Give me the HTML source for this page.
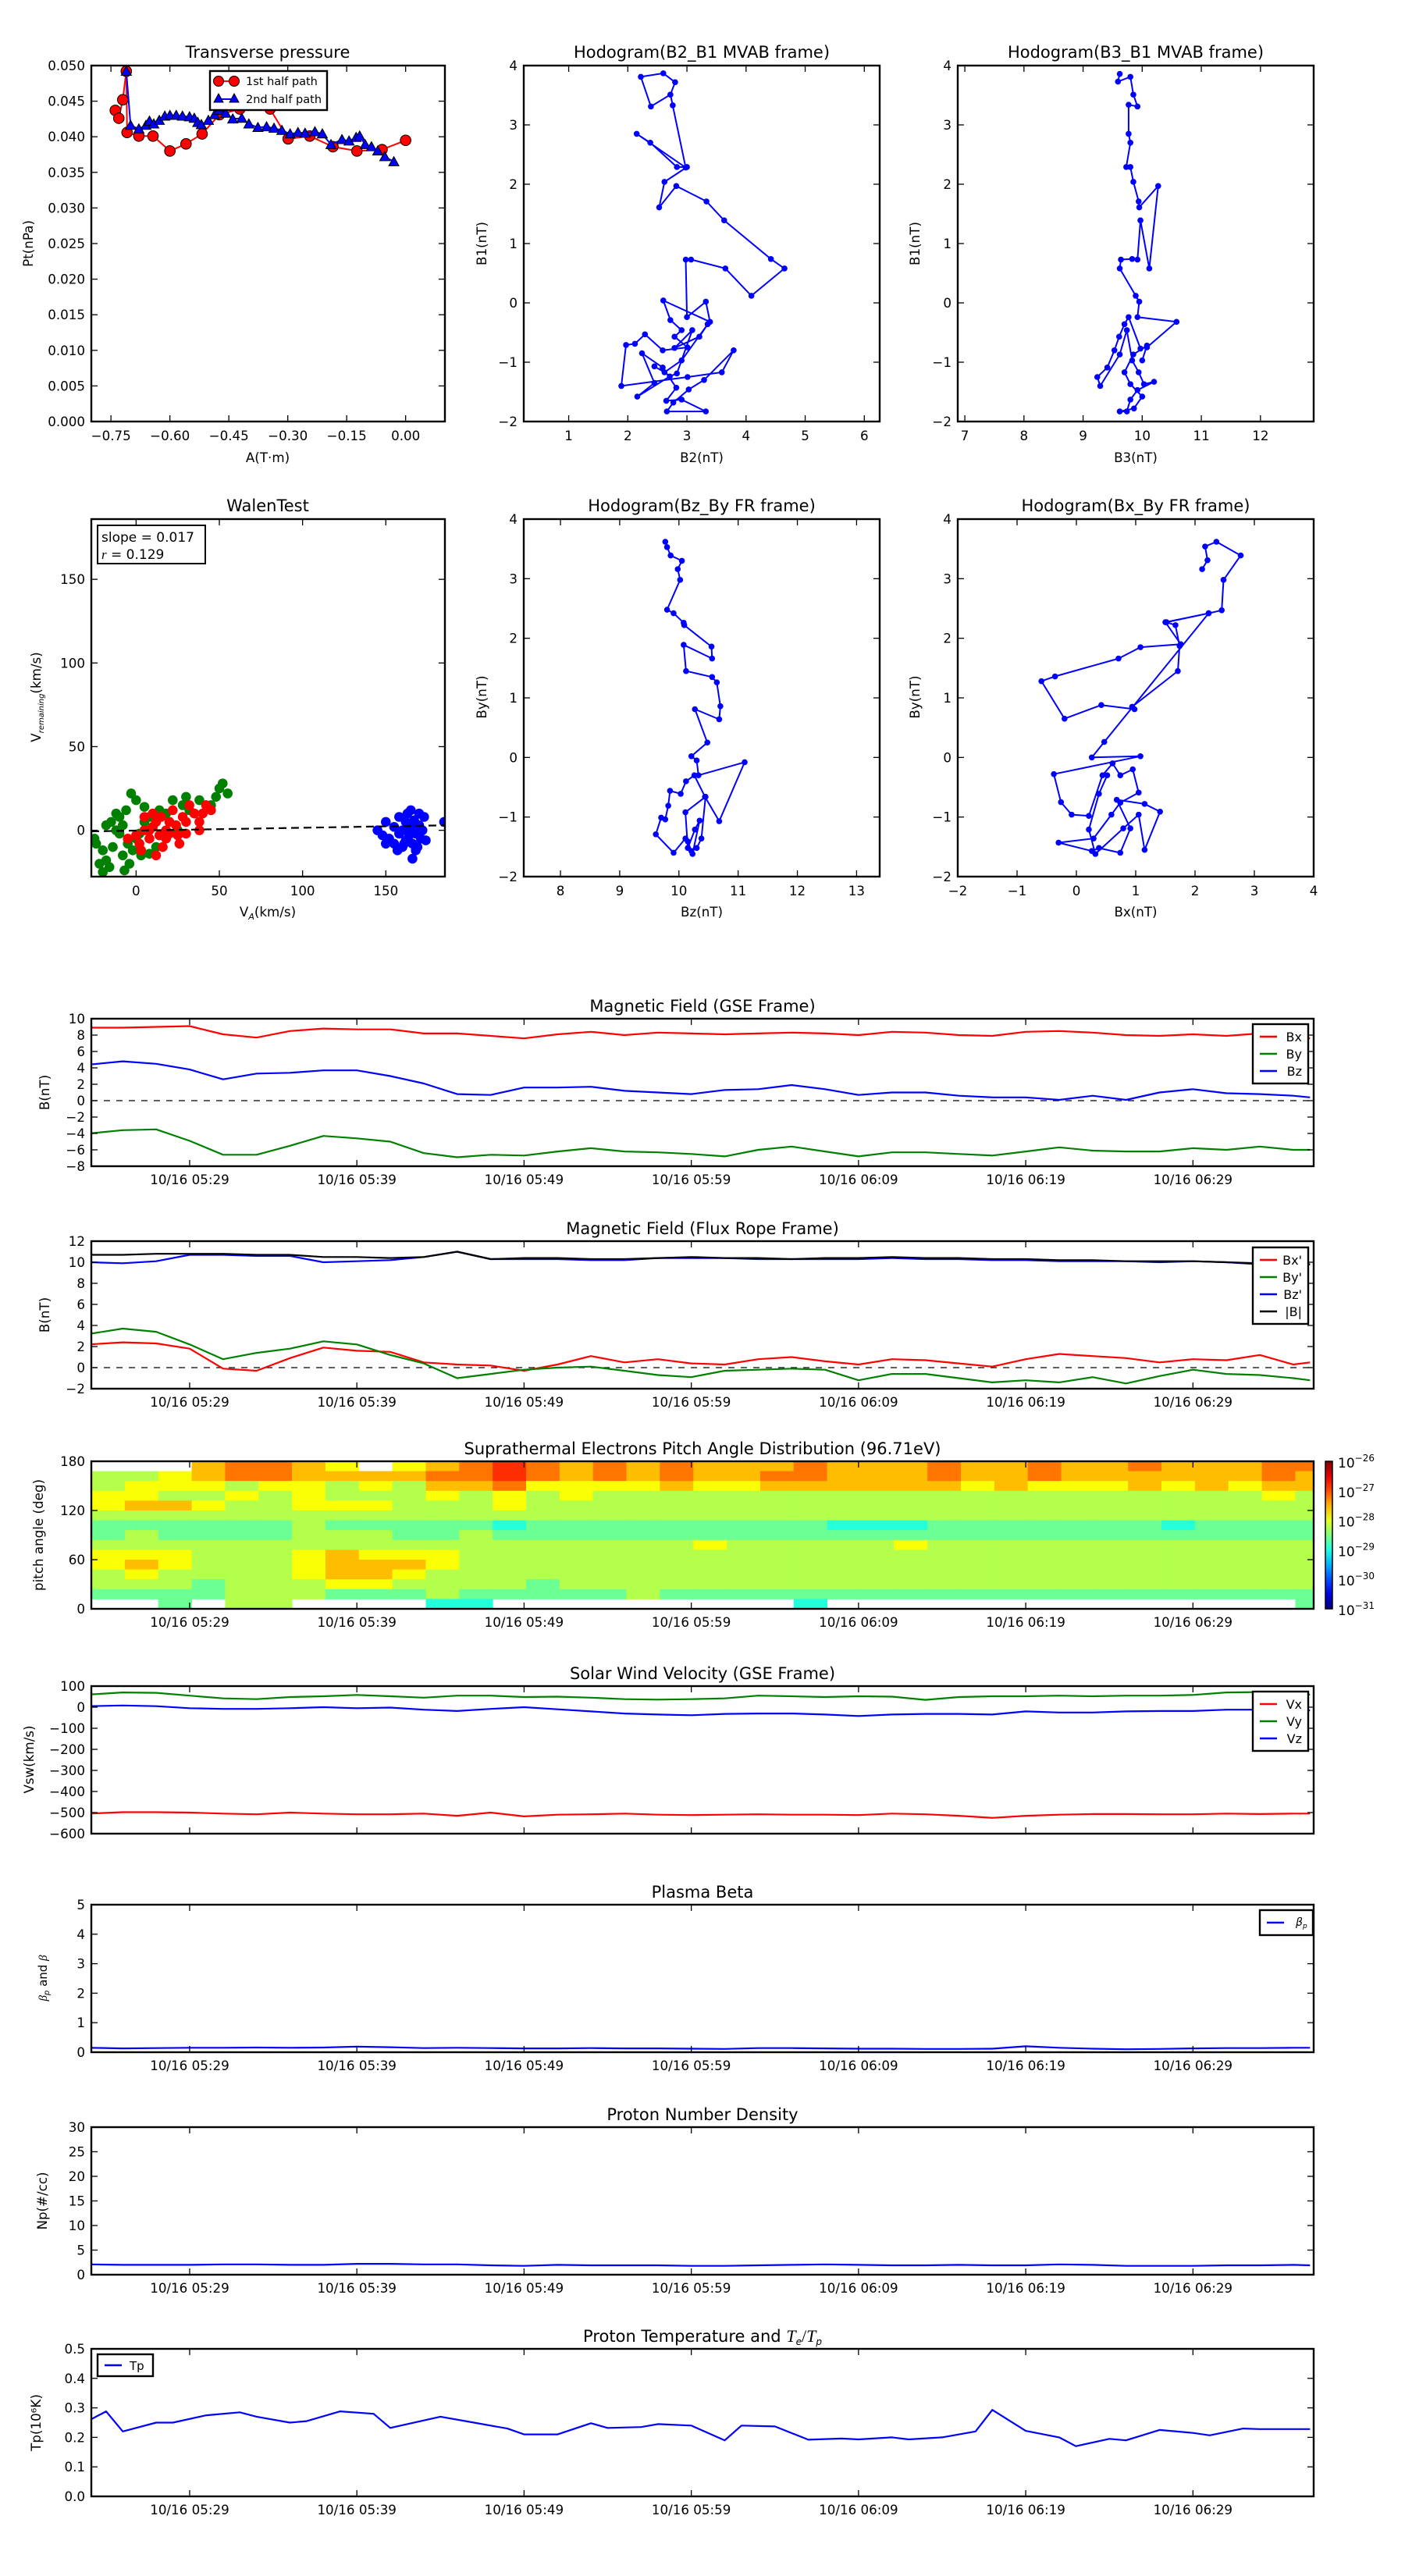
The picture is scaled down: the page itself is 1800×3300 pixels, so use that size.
<!DOCTYPE html>
<html><head><meta charset="utf-8"><style>
html,body{margin:0;padding:0;background:#fff;}
svg{display:block;}
text{font-family:"DejaVu Sans","Liberation Sans",sans-serif;fill:#000;}
</style></head><body>
<svg id="fig" xmlns="http://www.w3.org/2000/svg" width="1800" height="3300" viewBox="0 0 1800 3300"><defs id="defs"><linearGradient id="jetgrad" x1="0" y1="1" x2="0" y2="0"></linearGradient></defs><rect x="0" y="0" width="1800" height="3300" fill="#fff"/></svg>
<script>
// ---------------- data ----------------
const pt1A=[-0.739,-0.730,-0.720,-0.711,-0.709,-0.679,-0.643,-0.600,-0.559,-0.518,-0.474,-0.422,-0.345,-0.299,-0.244,-0.185,-0.124,-0.060,0.000];
const pt1P=[0.0437,0.0426,0.0452,0.0492,0.0406,0.0401,0.0401,0.0380,0.0390,0.0404,0.0431,0.0439,0.0439,0.0397,0.0401,0.0386,0.0380,0.0382,0.0395];
const pt2A=[-0.711,-0.700,-0.679,-0.661,-0.652,-0.641,-0.627,-0.613,-0.600,-0.584,-0.568,-0.550,-0.538,-0.529,-0.520,-0.502,-0.486,-0.474,-0.458,-0.440,-0.417,-0.399,-0.376,-0.354,-0.335,-0.315,-0.294,-0.274,-0.256,-0.231,-0.212,-0.190,-0.162,-0.144,-0.126,-0.117,-0.103,-0.087,-0.071,-0.053,-0.030];
const pt2P=[0.0492,0.0416,0.0411,0.0416,0.0422,0.0418,0.0423,0.0429,0.0430,0.0430,0.0429,0.0428,0.0426,0.0420,0.0417,0.0423,0.0431,0.0437,0.0433,0.0425,0.0426,0.0418,0.0413,0.0414,0.0412,0.0409,0.0404,0.0406,0.0405,0.0407,0.0404,0.0389,0.0396,0.0394,0.0399,0.0401,0.0389,0.0386,0.0380,0.0372,0.0365];
const h1B2=[2.76,2.72,2.39,2.22,2.60,2.80,2.72,2.98,2.15,2.38,2.83,3.00,2.62,2.53,2.82,3.33,3.63,4.42,4.65,4.09,3.65,3.07,2.98,3.00,3.32,3.39,2.60,2.72,2.91,2.79,3.01,2.59,2.29,2.12,1.97,1.89,3.01,3.59,3.79,3.29,3.03,2.77,2.66,3.32,2.91,2.65,2.82,2.59,2.24,2.45,2.16,2.71,2.83,3.09,2.79,3.21,3.35,2.91,2.62,2.45];
const h1B1=[3.33,3.51,3.31,3.81,3.87,3.72,3.51,2.28,2.85,2.70,2.29,2.29,2.04,1.61,1.97,1.71,1.39,0.74,0.58,0.12,0.58,0.73,0.73,-0.24,0.02,-0.32,0.04,-0.29,-0.46,-0.57,-0.75,-0.80,-0.53,-0.69,-0.71,-1.40,-1.25,-1.17,-0.80,-1.30,-1.46,-1.68,-1.83,-1.83,-1.63,-1.65,-1.43,-1.09,-0.85,-1.35,-1.58,-1.24,-1.19,-0.46,-0.76,-0.57,-0.36,-0.97,-1.17,-1.07];
const h2B3=[9.62,9.59,9.80,9.85,9.92,9.77,9.77,9.80,9.73,9.80,9.85,9.94,9.95,10.27,10.12,9.97,9.92,9.83,9.64,9.62,9.89,9.95,9.92,10.58,10.08,9.97,9.77,9.70,9.61,9.53,9.41,9.24,9.29,9.62,9.74,9.83,9.94,10.03,10.20,9.92,9.80,9.74,9.62,9.86,10.00,9.80,9.70,9.85,10.08,10.00];
const h2B1=[3.86,3.73,3.81,3.51,3.31,3.34,2.85,2.70,2.29,2.29,2.04,1.71,1.61,1.97,0.58,1.39,0.73,0.74,0.73,0.58,0.12,0.02,-0.24,-0.32,-0.75,-0.77,-0.24,-0.36,-0.57,-0.80,-1.09,-1.25,-1.40,-0.87,-0.46,-0.97,-1.17,-1.37,-1.33,-1.47,-1.63,-1.83,-1.83,-1.78,-1.58,-1.37,-1.17,-0.87,-0.72,-0.97];
const walGreenX=[-25,-22,-20,-18,-16,-15,-14,-12,-12,-10,-10,-8,-8,-6,-5,-4,-2,0,-3,0,2,5,5,8,10,12,14,18,20,22,25,28,30,32,35,38,45,48,50,52,55,-20,-24,-18,-7,3,8];
const walGreenY=[-5,-20,-25,-18,-22,5,-10,0,10,-2,8,3,-15,12,-8,-20,-12,-5,22,18,-2,5,14,8,2,-10,12,10,5,18,0,15,20,12,10,18,15,20,25,28,22,-12,-8,3,-24,-15,-14];
const walRedX=[-5,0,2,5,5,8,10,10,12,14,15,16,18,20,20,22,24,25,28,30,30,32,35,38,38,40,42,8,3,12,18,26,45];
const walRedY=[-5,-3,-8,0,8,-5,2,10,5,-3,8,-10,0,5,-2,12,3,-3,8,5,-2,15,10,0,5,10,15,0,-12,-15,-5,-8,12];
const walBlueX=[145,148,150,152,155,155,158,158,160,160,162,162,163,164,165,165,166,167,168,168,170,170,171,172,174,173,166,157,161,185,150,169];
const walBlueY=[0,-3,5,-5,2,-8,8,-2,0,-10,5,-6,10,-3,12,2,-8,6,-2,-12,3,10,-5,0,-6,8,-17,-12,-8,5,-8,-10];
const walSlope=0.017, walIntercept=-0.2;
const h3Bz=[9.77,9.80,9.86,10.05,9.98,10.02,9.80,9.91,10.08,10.09,10.55,10.56,10.08,10.12,10.56,10.64,10.70,10.68,10.27,10.48,10.21,10.30,10.33,11.11,10.68,10.44,10.26,10.12,10.03,9.85,9.82,9.77,9.70,9.61,9.91,10.11,10.21,10.30,10.38,10.45,10.11,10.15,10.27,10.35,10.23,10.15];
const h3By=[3.62,3.53,3.39,3.30,3.16,2.98,2.48,2.42,2.26,2.22,1.86,1.66,1.89,1.45,1.35,1.26,0.86,0.64,0.81,0.25,0.02,-0.05,-0.30,-0.08,-1.07,-0.66,-0.30,-0.40,-0.61,-0.56,-0.81,-1.04,-1.01,-1.29,-1.60,-1.36,-1.57,-1.52,-1.36,-0.66,-0.92,-1.52,-1.21,-1.06,-1.62,-1.41];
const h4Bx=[2.12,2.21,2.17,2.36,2.77,2.48,2.45,2.23,1.52,1.67,1.74,1.71,0.94,0.98,0.42,-0.20,-0.59,-0.36,0.71,1.08,1.76,1.50,2.23,0.47,0.26,1.08,-0.38,-0.26,-0.08,0.21,0.44,0.61,0.74,0.95,1.05,0.74,0.59,0.29,-0.30,0.26,0.38,0.74,0.91,0.68,1.15,1.41,1.15,1.05,0.79,0.32,0.21,0.38,0.52];
const h4By=[3.16,3.31,3.54,3.62,3.39,2.98,2.47,2.42,2.27,2.22,1.87,1.45,0.85,0.81,0.88,0.65,1.28,1.36,1.66,1.85,1.90,2.27,2.42,0.26,0.00,0.02,-0.28,-0.75,-0.96,-0.98,-0.30,-0.10,-0.30,-0.20,-0.59,-0.76,-0.96,-1.36,-1.43,-1.57,-1.52,-1.60,-1.19,-0.71,-0.78,-0.91,-1.55,-0.96,-1.19,-1.62,-1.21,-0.61,-0.30];
const tGrid=[23,25,27,29,31,33,35,37,39,41,43,45,47,49,51,53,55,57,59,61,63,65,67,69,71,73,75,77,79,81,83,85,87,89,91,93,95,96];
const gseBx=[8.9,8.9,9.0,9.1,8.1,7.7,8.5,8.8,8.7,8.7,8.2,8.2,7.9,7.6,8.1,8.4,8.0,8.3,8.2,8.1,8.2,8.3,8.2,8.0,8.4,8.3,8.0,7.9,8.4,8.5,8.3,8.0,7.9,8.1,7.9,8.2,7.8,7.6];
const gseBy=[-4.0,-3.6,-3.5,-4.9,-6.6,-6.6,-5.5,-4.3,-4.6,-5.0,-6.4,-6.9,-6.6,-6.7,-6.2,-5.8,-6.2,-6.3,-6.5,-6.8,-6.0,-5.6,-6.2,-6.8,-6.3,-6.3,-6.5,-6.7,-6.2,-5.7,-6.1,-6.2,-6.2,-5.8,-6.0,-5.6,-6.0,-6.0];
const gseBz=[4.4,4.8,4.5,3.8,2.6,3.3,3.4,3.7,3.7,3.0,2.1,0.8,0.7,1.6,1.6,1.7,1.2,1.0,0.8,1.3,1.4,1.9,1.4,0.7,1.0,1.0,0.6,0.4,0.4,0.1,0.6,0.1,1.0,1.4,0.9,0.8,0.6,0.4];
const frBx=[2.2,2.4,2.3,1.8,-0.1,-0.3,0.9,1.9,1.6,1.5,0.5,0.3,0.2,-0.3,0.3,1.1,0.5,0.8,0.4,0.3,0.8,1.0,0.6,0.3,0.8,0.7,0.4,0.1,0.8,1.3,1.1,0.9,0.5,0.8,0.7,1.2,0.3,0.5];
const frBy=[3.2,3.7,3.4,2.2,0.8,1.4,1.8,2.5,2.2,1.2,0.4,-1.0,-0.6,-0.2,0.0,0.1,-0.3,-0.7,-0.9,-0.3,-0.2,-0.1,-0.2,-1.2,-0.6,-0.6,-1.0,-1.4,-1.2,-1.4,-0.9,-1.5,-0.8,-0.2,-0.6,-0.7,-1.0,-1.2];
const frBz=[10.0,9.9,10.1,10.7,10.7,10.6,10.6,10.0,10.1,10.2,10.5,11.0,10.3,10.3,10.3,10.2,10.2,10.4,10.4,10.4,10.3,10.3,10.3,10.3,10.4,10.3,10.3,10.2,10.2,10.1,10.1,10.1,10.0,10.1,10.0,9.8,9.8,9.8];
const frB=[10.7,10.7,10.8,10.8,10.8,10.7,10.7,10.5,10.5,10.4,10.5,11.0,10.3,10.4,10.4,10.3,10.3,10.4,10.5,10.4,10.4,10.3,10.4,10.4,10.5,10.4,10.4,10.3,10.3,10.2,10.2,10.1,10.1,10.1,10.0,9.9,9.9,9.8];
const swVx=[-505,-498,-498,-500,-505,-508,-500,-505,-508,-508,-505,-515,-500,-518,-510,-508,-505,-510,-512,-510,-508,-510,-510,-512,-505,-508,-515,-525,-515,-510,-507,-507,-508,-508,-505,-507,-505,-505];
const swVy=[60,70,68,55,42,38,48,52,58,52,45,55,55,48,50,45,38,36,38,42,55,52,48,52,50,35,48,52,52,55,52,55,55,58,70,72,60,60];
const swVz=[5,8,5,-5,-8,-8,-5,0,-5,-2,-12,-18,-8,0,-10,-20,-30,-35,-38,-32,-30,-30,-35,-42,-35,-32,-32,-35,-20,-25,-25,-20,-18,-18,-12,-12,-12,-15];
const betaP=[0.15,0.13,0.14,0.15,0.15,0.16,0.15,0.16,0.19,0.17,0.14,0.15,0.14,0.13,0.13,0.14,0.13,0.13,0.12,0.11,0.14,0.14,0.13,0.12,0.12,0.11,0.11,0.12,0.20,0.15,0.12,0.10,0.11,0.13,0.14,0.14,0.15,0.15];
const densNp=[2.1,2.0,2.0,2.0,2.1,2.1,2.0,2.0,2.2,2.2,2.1,2.1,1.9,1.8,2.0,1.9,1.9,1.9,1.8,1.8,1.9,2.0,2.1,2.0,1.9,1.9,2.0,1.9,1.9,2.1,2.0,1.8,1.8,1.8,1.9,1.9,2.0,1.9];
const tempT=[23,24,25,27,28,30,32,33,35,36,38,40,41,44,46,48,49,51,53,54,56,57,59,61,62,64,66,68,69,71,72,74,76,77,79,81,82,84,85,87,89,90,92,93,96];
const tempTp=[0.258,0.288,0.22,0.25,0.25,0.275,0.285,0.27,0.25,0.255,0.288,0.28,0.232,0.27,0.25,0.23,0.21,0.21,0.248,0.232,0.235,0.245,0.24,0.19,0.24,0.237,0.192,0.196,0.193,0.2,0.193,0.2,0.22,0.293,0.222,0.2,0.17,0.195,0.19,0.225,0.215,0.207,0.23,0.228,0.228];
const padRows=[
"...78876.6789878787778777877877877788",
"5567887777889878787788777877877777787",
"5666566565778666676677777767666767677",
"6655656555656565555555555555555555565",
"6776556665556555555555555555555555555",
"5555555555555555555555555555555555555",
"4444445444443444444444333444444434444",
"4544445554454444444444444444444444444",
"5555555555555555556555556555555555555",
"6665556766655555555555555555555555555",
"6765556777655555555555555555555555555",
"5655556776555555555555555555555555555",
"5554555665555455555555555555555555555",
"4444555444544444544444444444444444444",
"..4.55....33.........3..............4"];
const padCbarExp=[-26,-27,-28,-29,-30,-31];
const timeTicks=[29,39,49,59,69,79,89];
const timeTickLabels=['10/16 05:29','10/16 05:39','10/16 05:49','10/16 05:59','10/16 06:09','10/16 06:19','10/16 06:29'];

// ---------------- helpers ----------------
const NS='http://www.w3.org/2000/svg';
const svg=document.getElementById('fig');
const defs=document.getElementById('defs');
function mk(parent,tag,attrs,name,inter){
  const el=document.createElementNS(NS,tag);
  for(const k in attrs) el.setAttribute(k,attrs[k]);
  
  
  parent.appendChild(el);
  return el;
}
function txt(parent,x,y,s,size,anchor,name,extra){
  const a={x:x,y:y,'font-size':size,'text-anchor':anchor||'middle'};
  if(extra) for(const k in extra) a[k]=extra[k];
  const t=mk(parent,'text',a,name,false);
  t.textContent=s;
  return t;
}
let clipN=0;
function makeAxes(name,x0,y0,w,h,xd,yd){
  const g=mk(svg,'g',{},name,false);
  const id='clip'+(clipN++);
  const cp=mk(defs,'clipPath',{id:id},name+'-clip',false);
  mk(cp,'rect',{x:x0,y:y0,width:w,height:h},name+'-clip-rect',false);
  const plot=mk(g,'g',{'clip-path':'url(#'+id+')'},name+'-plot-area',false);
  const sx=v=>x0+(v-xd[0])/(xd[1]-xd[0])*w;
  const sy=v=>y0+h-(v-yd[0])/(yd[1]-yd[0])*h;
  return {g,plot,sx,sy,x0,y0,w,h,name};
}
function frame(ax){
  mk(ax.g,'rect',{x:ax.x0,y:ax.y0,width:ax.w,height:ax.h,fill:'none',stroke:'#000','stroke-width':2.4},ax.name+'-frame',false);
}
function fmt(v){return String(v).replace('-','\u2212');}
function xTicks(ax,vals,labels,fs,off){
  vals.forEach((v,i)=>{
    const x=ax.sx(v);
    mk(ax.g,'line',{x1:x,y1:ax.y0+ax.h,x2:x,y2:ax.y0+ax.h-8,stroke:'#000','stroke-width':1.3},'x-tick',false);
    mk(ax.g,'line',{x1:x,y1:ax.y0,x2:x,y2:ax.y0+8,stroke:'#000','stroke-width':1.3},'x-tick-top',false);
    txt(ax.g,x,ax.y0+ax.h+(off||24),labels[i],fs||16.7,'middle','x-tick-label');
  });
}
function yTicks(ax,vals,labels,fs){
  vals.forEach((v,i)=>{
    const y=ax.sy(v);
    mk(ax.g,'line',{x1:ax.x0,y1:y,x2:ax.x0+8,y2:y,stroke:'#000','stroke-width':1.3},'y-tick',false);
    mk(ax.g,'line',{x1:ax.x0+ax.w,y1:y,x2:ax.x0+ax.w-8,y2:y,stroke:'#000','stroke-width':1.3},'y-tick-right',false);
    txt(ax.g,ax.x0-8,y+6,labels[i],fs||16.7,'end','y-tick-label');
  });
}
function line(ax,xs,ys,color,name,w,dash){
  const pts=xs.map((x,i)=>ax.sx(x).toFixed(1)+','+ax.sy(ys[i]).toFixed(1)).join(' ');
  const a={points:pts,fill:'none',stroke:color,'stroke-width':w||2.2,'stroke-linejoin':'round'};
  if(dash) a['stroke-dasharray']=dash;
  return mk(ax.plot,'polyline',a,name,false);
}
function dots(ax,xs,ys,color,r,name,stroke){
  xs.forEach((x,i)=>{
    const a={cx:ax.sx(x),cy:ax.sy(ys[i]),r:r,fill:color};
    if(stroke){a.stroke=stroke;a['stroke-width']=1;}
    mk(ax.plot,'circle',a,name,false);
  });
}
function tris(ax,xs,ys,color,s,name){
  xs.forEach((x,i)=>{
    const cx=ax.sx(x),cy=ax.sy(ys[i]);
    mk(ax.plot,'polygon',{points:`${cx},${cy-s} ${cx-s},${cy+s*0.8} ${cx+s},${cy+s*0.8}`,fill:color,stroke:'#000','stroke-width':1},name,false);
  });
}
function range(a,b,s){const r=[];for(let v=a;v<=b+1e-9;v+=s)r.push(Math.round(v*1000)/1000);return r;}
function ylab(x,y,s,name,size){return txt(svg,x,y,s,size||16.7,'middle',name,{transform:`rotate(-90 ${x} ${y})`});}
function jet(t){
  const c=v=>Math.round(255*Math.max(0,Math.min(1,v)));
  return `rgb(${c(1.5-Math.abs(4*t-3))},${c(1.5-Math.abs(4*t-2))},${c(1.5-Math.abs(4*t-1))})`;
}
function legend(x,y,w,entries,name){
  const g=mk(svg,'g',{},name,false);
  mk(g,'rect',{x:x,y:y,width:w,height:entries.length*22+10,fill:'#fff',stroke:'#000','stroke-width':2.4},name+'-box',false);
  entries.forEach((e,i)=>{
    const yy=y+16+i*22;
    mk(g,'line',{x1:x+9,y1:yy,x2:x+31,y2:yy,stroke:e[1],'stroke-width':2.4},'legend-line-'+e[0],false);
    txt(g,x+w-8,yy+6,e[0],16,'end','legend-label-'+e[0]);
  });
  return g;
}
const TF=21;

// ---------------- top row ----------------
const apx=makeAxes('transverse-pressure-panel',117,84,453,456,[-0.8,0.1],[0,0.05]);
line(apx,pt1A,pt1P,'#ff0000','first-half-path-line',2);
dots(apx,pt1A,pt1P,'#ff0000',6.8,'first-half-marker','#000');
line(apx,pt2A,pt2P,'#0000ff','second-half-path-line',2);
tris(apx,pt2A,pt2P,'#0000ff',6.5,'second-half-marker');
frame(apx);
xTicks(apx,[-0.75,-0.6,-0.45,-0.3,-0.15,0],['\u22120.75','\u22120.60','\u22120.45','\u22120.30','\u22120.15','0.00']);
yTicks(apx,range(0,0.05,0.005),range(0,0.05,0.005).map(v=>v.toFixed(3)));
txt(svg,343,74,'Transverse pressure',TF,'middle','transverse-pressure-title');
txt(svg,343,592,'A(T\u00b7m)',16.7,'middle','transverse-pressure-x-label');
ylab(42,312,'Pt(nPa)','transverse-pressure-y-label');
{
  const g=mk(svg,'g',{},'pressure-legend',false);
  mk(g,'rect',{x:269,y:91,width:150,height:50,fill:'#fff',stroke:'#000','stroke-width':2.4},'pressure-legend-box',false);
  mk(g,'line',{x1:280,y1:104,x2:300,y2:104,stroke:'#ff0000','stroke-width':2},'legend-line-1st',false);
  mk(g,'circle',{cx:280,cy:104,r:6.5,fill:'#ff0000',stroke:'#000'},'legend-marker-1st',false);
  mk(g,'circle',{cx:300,cy:104,r:6.5,fill:'#ff0000',stroke:'#000'},'legend-marker-1st',false);
  txt(g,315,109,'1st half path',14.5,'start','legend-label-1st');
  mk(g,'line',{x1:280,y1:127,x2:300,y2:127,stroke:'#0000ff','stroke-width':2},'legend-line-2nd',false);
  mk(g,'polygon',{points:'280,120 274,131 286,131',fill:'#0000ff',stroke:'#000'},'legend-marker-2nd',false);
  mk(g,'polygon',{points:'300,120 294,131 306,131',fill:'#0000ff',stroke:'#000'},'legend-marker-2nd',false);
  txt(g,315,132,'2nd half path',14.5,'start','legend-label-2nd');
}
const ah1=makeAxes('hodogram-b2-b1-panel',671,84,456,456,[0.24,6.26],[-2,4]);
line(ah1,h1B2,h1B1,'#0000ff','hodogram-b2-b1-line',2);
dots(ah1,h1B2,h1B1,'#0000ff',3.8,'hodogram-b2-b1-point');
frame(ah1);
xTicks(ah1,[1,2,3,4,5,6],['1','2','3','4','5','6']);
yTicks(ah1,[-2,-1,0,1,2,3,4],['\u22122','\u22121','0','1','2','3','4']);
txt(svg,899,74,'Hodogram(B2_B1 MVAB frame)',TF,'middle','hodogram-b2-b1-title');
txt(svg,899,592,'B2(nT)',16.7,'middle','hodogram-b2-b1-x-label');
ylab(623,312,'B1(nT)','hodogram-b2-b1-y-label');
const ah2=makeAxes('hodogram-b3-b1-panel',1227,84,456,456,[6.88,12.9],[-2,4]);
line(ah2,h2B3,h2B1,'#0000ff','hodogram-b3-b1-line',2);
dots(ah2,h2B3,h2B1,'#0000ff',3.8,'hodogram-b3-b1-point');
frame(ah2);
xTicks(ah2,[7,8,9,10,11,12],['7','8','9','10','11','12']);
yTicks(ah2,[-2,-1,0,1,2,3,4],['\u22122','\u22121','0','1','2','3','4']);
txt(svg,1455,74,'Hodogram(B3_B1 MVAB frame)',TF,'middle','hodogram-b3-b1-title');
txt(svg,1455,592,'B3(nT)',16.7,'middle','hodogram-b3-b1-x-label');
ylab(1178,312,'B1(nT)','hodogram-b3-b1-y-label');

// ---------------- second row ----------------
const aw=makeAxes('walen-test-panel',117,665,453,458,[-26.9,185.5],[-27.7,186]);
dots(aw,walGreenX,walGreenY,'#008000',6.3,'walen-green-point');
dots(aw,walRedX,walRedY,'#ff0000',6.3,'walen-red-point');
dots(aw,walBlueX,walBlueY,'#0000ff',6.3,'walen-blue-point');
line(aw,[-26.9,185.5],[-26.9*walSlope+walIntercept,185.5*walSlope+walIntercept],'#000','walen-fit-line',2.2,'10,6');
frame(aw);
xTicks(aw,[0,50,100,150],['0','50','100','150']);
yTicks(aw,[0,50,100,150],['0','50','100','150']);
txt(svg,343,655,'WalenTest',TF,'middle','walen-test-title');
{
  const t=txt(svg,343,1174,'V',16.7,'middle','walen-x-label');
  const s=mk(t,'tspan',{'font-size':11,dy:4,'font-style':'italic'},'walen-x-label-sub',false); s.textContent='A';
  const s2=mk(t,'tspan',{dy:-4},'walen-x-label-unit',false); s2.textContent='(km/s)';
  const y=ylab(52,893,'V','walen-y-label');
  const u=mk(y,'tspan',{'font-size':10,dy:4,'font-style':'italic'},'walen-y-label-sub',false); u.textContent='remaining';
  const u2=mk(y,'tspan',{dy:-4},'walen-y-label-unit',false); u2.textContent='(km/s)';
  const g=mk(svg,'g',{},'walen-stats-box',false);
  mk(g,'rect',{x:125,y:673,width:138,height:49,fill:'#fff',stroke:'#000','stroke-width':2},'walen-stats-frame',false);
  txt(g,130,694,'slope = 0.017',17,'start','walen-slope-text');
  const r=txt(g,130,716,'',17,'start','walen-r-text');
  const ri=mk(r,'tspan',{'font-style':'italic','font-family':'Liberation Serif'},'walen-r-symbol',false); ri.textContent='r';
  const rv=mk(r,'tspan',{},'walen-r-value',false); rv.textContent=' = 0.129';
}
const ah3=makeAxes('hodogram-bz-by-panel',671,665,456,458,[7.38,13.39],[-2,4]);
line(ah3,h3Bz,h3By,'#0000ff','hodogram-bz-by-line',2);
dots(ah3,h3Bz,h3By,'#0000ff',3.8,'hodogram-bz-by-point');
frame(ah3);
xTicks(ah3,[8,9,10,11,12,13],['8','9','10','11','12','13']);
yTicks(ah3,[-2,-1,0,1,2,3,4],['\u22122','\u22121','0','1','2','3','4']);
txt(svg,899,655,'Hodogram(Bz_By FR frame)',TF,'middle','hodogram-bz-by-title');
txt(svg,899,1174,'Bz(nT)',16.7,'middle','hodogram-bz-by-x-label');
ylab(623,893,'By(nT)','hodogram-bz-by-y-label');
const ah4=makeAxes('hodogram-bx-by-panel',1227,665,456,458,[-2,4],[-2,4]);
line(ah4,h4Bx,h4By,'#0000ff','hodogram-bx-by-line',2);
dots(ah4,h4Bx,h4By,'#0000ff',3.8,'hodogram-bx-by-point');
frame(ah4);
xTicks(ah4,[-2,-1,0,1,2,3,4],['\u22122','\u22121','0','1','2','3','4']);
yTicks(ah4,[-2,-1,0,1,2,3,4],['\u22122','\u22121','0','1','2','3','4']);
txt(svg,1455,655,'Hodogram(Bx_By FR frame)',TF,'middle','hodogram-bx-by-title');
txt(svg,1455,1174,'Bx(nT)',16.7,'middle','hodogram-bx-by-x-label');
ylab(1178,893,'By(nT)','hodogram-bx-by-y-label');

// ---------------- time series ----------------
const TD=[23.12,96.22];
function timeAxes(name,top,yd,title){
  const ax=makeAxes(name,117,top,1566,189,TD,yd);
  txt(svg,900,top-9,title,TF,'middle',name+'-title');
  return ax;
}
function finishTime(ax,yv,yl,ylabel,lx){
  frame(ax);
  xTicks(ax,timeTicks,timeTickLabels,16.7,23);
  yTicks(ax,yv,yl);
  ylab(lx,ax.y0+ax.h/2,ylabel,ax.name+'-y-label');
}
const yl=a=>a.map(fmt);
const ag=timeAxes('magnetic-field-gse-panel',1305,[-8,10],'Magnetic Field (GSE Frame)');
line(ag,TD,[0,0],'#000','zero-line',1.3,'8,8');
line(ag,tGrid,gseBx,'#ff0000','gse-bx-line');
line(ag,tGrid,gseBy,'#008000','gse-by-line');
line(ag,tGrid,gseBz,'#0000ff','gse-bz-line');
finishTime(ag,range(-8,10,2),yl(range(-8,10,2)),'B(nT)',63);
legend(1605,1312,71,[['Bx','#ff0000'],['By','#008000'],['Bz','#0000ff']],'gse-legend');
const af=timeAxes('magnetic-field-fr-panel',1590,[-2,12],'Magnetic Field (Flux Rope Frame)');
line(af,TD,[0,0],'#000','zero-line',1.3,'8,8');
line(af,tGrid,frBx,'#ff0000','fr-bx-line');
line(af,tGrid,frBy,'#008000','fr-by-line');
line(af,tGrid,frBz,'#0000ff','fr-bz-line');
line(af,tGrid,frB,'#000000','fr-btotal-line');
finishTime(af,range(-2,12,2),yl(range(-2,12,2)),'B(nT)',63);
legend(1605,1598,71,[["Bx'",'#ff0000'],["By'",'#008000'],["Bz'",'#0000ff'],['|B|','#000']],'fr-legend');
const ap=timeAxes('pitch-angle-panel',1872,[0,180],'Suprathermal Electrons Pitch Angle Distribution (96.71eV)');
padRows.forEach((row,r)=>{
  for(let c=0;c<row.length;c++){
    const ch=row[c]; if(ch==='.') continue;
    const d=+ch; const t=0.2+d*0.07;
    const x1=ap.sx(TD[0]+2*c), x2=ap.sx(TD[0]+2*c+2);
    const y1=ap.sy(180-12*r), y2=ap.sy(180-12*(r+1));
    mk(ap.plot,'rect',{x:x1,y:y1,width:x2-x1+0.5,height:y2-y1+0.5,fill:jet(t)},'pad-cell',false);
  }
});
finishTime(ap,[0,60,120,180],['0','60','120','180'],'pitch angle (deg)',55);
{
  const gr=document.getElementById('jetgrad');
  for(let i=0;i<=10;i++){mk(gr,'stop',{offset:i/10,'stop-color':jet(i/10)},'colorbar-stop',false);}
  mk(svg,'rect',{x:1698,y:1872,width:9,height:189,fill:'url(#jetgrad)',stroke:'#000','stroke-width':1.5},'colorbar',false);
  padCbarExp.forEach((e,i)=>{
    const y=1872+i*189/5;
    const t=txt(svg,1714,y+8,'10',17,'start','colorbar-tick-label');
    const s=mk(t,'tspan',{dy:-8,'font-size':12},'colorbar-exponent',false); s.textContent=fmt(e);
  });
}
const as=timeAxes('solar-wind-velocity-panel',2160,[-600,100],'Solar Wind Velocity (GSE Frame)');
line(as,tGrid,swVx,'#ff0000','sw-vx-line');
line(as,tGrid,swVy,'#008000','sw-vy-line');
line(as,tGrid,swVz,'#0000ff','sw-vz-line');
frame(as);
yTicks(as,range(-600,100,100),yl(range(-600,100,100)));
ylab(43,2254,'Vsw(km/s)','solar-wind-y-label');
timeTicks.forEach(v=>{const x=as.sx(v);
  mk(as.g,'line',{x1:x,y1:as.y0+as.h,x2:x,y2:as.y0+as.h-8,stroke:'#000','stroke-width':1.3},'x-tick',false);
  mk(as.g,'line',{x1:x,y1:as.y0,x2:x,y2:as.y0+8,stroke:'#000','stroke-width':1.3},'x-tick-top',false);});
legend(1605,2167,71,[['Vx','#ff0000'],['Vy','#008000'],['Vz','#0000ff']],'sw-legend');
const ab=timeAxes('plasma-beta-panel',2440,[0,5],'Plasma Beta');
line(ab,tGrid,betaP,'#0000ff','beta-p-line');
finishTime(ab,[0,1,2,3,4,5],['0','1','2','3','4','5'],'',60);
{
  const y=ylab(60,2534,'','plasma-beta-y-label-full',15);
  const a=mk(y,'tspan',{'font-style':'italic','font-family':'Liberation Serif'},'beta-symbol',false); a.textContent='\u03b2';
  const b=mk(y,'tspan',{'font-size':10,dy:3,'font-style':'italic'},'beta-sub',false); b.textContent='p';
  const c=mk(y,'tspan',{dy:-3},'beta-and',false); c.textContent=' and ';
  const d=mk(y,'tspan',{'font-style':'italic','font-family':'Liberation Serif'},'beta-symbol-2',false); d.textContent='\u03b2';
  const g=mk(svg,'g',{},'beta-legend',false);
  mk(g,'rect',{x:1614,y:2447,width:68,height:32,fill:'#fff',stroke:'#000','stroke-width':2.4},'beta-legend-box',false);
  mk(g,'line',{x1:1623,y1:2463,x2:1645,y2:2463,stroke:'#0000ff','stroke-width':2.4},'beta-legend-line',false);
  const t=txt(g,1660,2467,'\u03b2',14,'start','beta-legend-label',{'font-style':'italic'});
  const s=mk(t,'tspan',{'font-size':9,dy:3},'beta-legend-sub',false); s.textContent='p';
}
const ad=timeAxes('proton-density-panel',2725,[0,30],'Proton Number Density');
line(ad,tGrid,densNp,'#0000ff','density-line');
finishTime(ad,range(0,30,5),range(0,30,5).map(String),'Np(#/cc)',60);
const at=timeAxes('proton-temperature-panel',3009,[0,0.5],'');
line(at,tempT,tempTp,'#0000ff','temperature-line');
finishTime(at,[0,0.1,0.2,0.3,0.4,0.5],['0.0','0.1','0.2','0.3','0.4','0.5'],'Tp(10\u2076K)',52);
{
  const t=txt(svg,900,3000,'Proton Temperature and ',TF,'middle','proton-temperature-title');
  const a=mk(t,'tspan',{'font-style':'italic','font-family':'Liberation Serif','font-size':22},'title-te',false); a.textContent='T';
  const b=mk(t,'tspan',{'font-style':'italic','font-size':12,dy:4},'title-te-sub',false); b.textContent='e';
  const c=mk(t,'tspan',{dy:-4,'font-size':22,'font-family':'Liberation Serif'},'title-slash',false); c.textContent='/';
  const d=mk(t,'tspan',{'font-style':'italic','font-family':'Liberation Serif','font-size':22},'title-tp',false); d.textContent='T';
  const e=mk(t,'tspan',{'font-style':'italic','font-size':12,dy:4},'title-tp-sub',false); e.textContent='p';
  const g=mk(svg,'g',{},'temperature-legend',false);
  mk(g,'rect',{x:125,y:3016,width:71,height:28,fill:'#fff',stroke:'#000','stroke-width':2.4},'temperature-legend-box',false);
  mk(g,'line',{x1:134,y1:3030,x2:156,y2:3030,stroke:'#0000ff','stroke-width':2.4},'temperature-legend-line',false);
  txt(g,166,3036,'Tp',15,'start','temperature-legend-label');
}
</script>
</body></html>
